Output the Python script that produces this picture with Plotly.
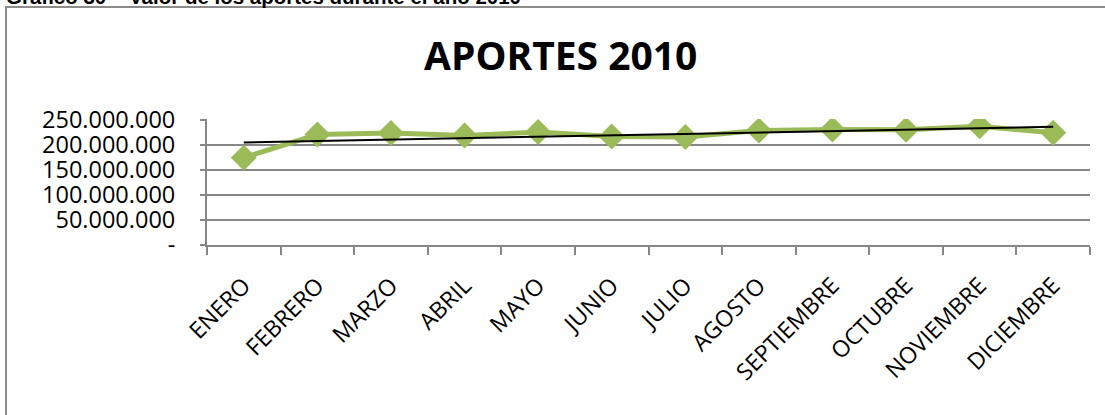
import numpy as np
import plotly.graph_objects as go

months = ["ENERO", "FEBRERO", "MARZO", "ABRIL", "MAYO", "JUNIO", "JULIO",
          "AGOSTO", "SEPTIEMBRE", "OCTUBRE", "NOVIEMBRE", "DICIEMBRE"]
aportes = [174e6, 220e6, 223e6, 218e6, 225e6, 216e6, 215e6,
           228e6, 230e6, 229.5e6, 236.5e6, 223.5e6]
y_tickvals = [0, 50e6, 100e6, 150e6, 200e6, 250e6]
y_ticktext = ["-", "50.000.000", "100.000.000", "150.000.000", "200.000.000", "250.000.000"]
title_text = "APORTES 2010"
caption_text = "Gráfico 30 – Valor de los aportes durante el año 2010"

# linear trend line (computed from the data)
idx = np.arange(len(aportes))
slope, intercept = np.polyfit(idx, aportes, 1)
trend = slope * idx + intercept

W, H = 1105, 415
L, T = 207, 119
R = W - 1090
B = H - 245
pw, ph = W - L - R, H - T - B

def px_x(p):  # window pixel -> paper
    return (p - L) / pw

def px_y(p):
    return (H - B - p) / ph

GREEN = "#9BBB59"
GRAY = "#878787"

fig = go.Figure()
fig.add_trace(go.Scatter(
    x=months, y=aportes, mode="lines+markers",
    line=dict(color=GREEN, width=5),
    marker=dict(symbol="diamond", size=20, color=GREEN),
    showlegend=False, hoverinfo="x+y"))
fig.add_trace(go.Scatter(
    x=months, y=trend, mode="lines",
    line=dict(color="black", width=2),
    showlegend=False, hoverinfo="skip"))

fig.update_layout(
    width=W, height=H,
    margin=dict(l=L, r=R, t=T, b=B, autoexpand=False),
    paper_bgcolor="white", plot_bgcolor="white",
    font=dict(family="Open Sans", color="black"),
    xaxis=dict(
        type="category", range=[-0.5, 11.5],
        tickson="boundaries", ticks="outside", ticklen=8, tickwidth=2, tickcolor=GRAY,
        showline=True, linecolor=GRAY, linewidth=2,
        showgrid=False, tickangle=-45,
        tickfont=dict(size=23, family="Open Sans", color="black"),
        ticklabelstandoff=16,
    ),
    yaxis=dict(
        range=[0, 251e6], tickvals=y_tickvals, ticktext=y_ticktext,
        ticks="outside", ticklen=5, tickwidth=2, tickcolor=GRAY,
        showline=True, linecolor=GRAY, linewidth=2,
        showgrid=True, gridcolor=GRAY, gridwidth=2, zeroline=False,
        tickfont=dict(size=23.5, family="Open Sans", color="black"),
        ticklabelstandoff=20,
    ),
    shapes=[dict(
        type="rect", xref="paper", yref="paper",
        x0=px_x(6), x1=px_x(1125), y0=px_y(440), y1=px_y(7),
        line=dict(color="#8c8c8c", width=2), fillcolor="rgba(0,0,0,0)", layer="below")],
    annotations=[
        dict(text=f"<b>{title_text}</b>", xref="paper", yref="paper",
             x=px_x(560), y=px_y(54), xanchor="center", yanchor="middle",
             showarrow=False, font=dict(size=39, family="Open Sans", color="black")),
        dict(text=f"<b>{caption_text}</b>", xref="paper", yref="paper",
             x=px_x(4), y=px_y(10), xanchor="left", yanchor="bottom",
             showarrow=False, font=dict(size=20.5, family="Liberation Sans", color="black")),
    ],
)

fig.write_html(
    "out.html",
    config={"displayModeBar": False},
    post_script="document.body.style.margin='0';document.body.style.overflow='hidden';",
)
